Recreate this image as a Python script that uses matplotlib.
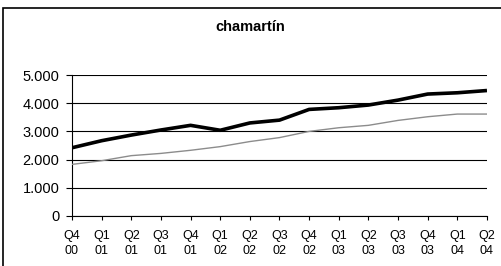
import numpy as np
import matplotlib.pyplot as plt
from matplotlib.patches import Rectangle
from matplotlib.ticker import FuncFormatter

plt.rcParams["font.family"] = ["Liberation Sans", "DejaVu Sans"]

quarters = ["Q4\n00", "Q1\n01", "Q2\n01", "Q3\n01", "Q4\n01", "Q1\n02", "Q2\n02", "Q3\n02",
            "Q4\n02", "Q1\n03", "Q2\n03", "Q3\n03", "Q4\n03", "Q1\n04", "Q2\n04"]
serie_negra = [2420, 2670, 2870, 3050, 3215, 3040, 3300, 3400,
               3780, 3840, 3935, 4110, 4325, 4370, 4450]
serie_gris = [1830, 1960, 2140, 2220, 2330, 2460, 2640, 2780,
              3000, 3130, 3215, 3390, 3520, 3615, 3615]
yticks = [0, 1000, 2000, 3000, 4000, 5000]

fig = plt.figure(figsize=(5.01, 2.66), dpi=100)
ax = fig.add_axes([0.1437, 0.188, 0.8283, 0.530])

x = np.arange(len(quarters))
ax.plot(x, serie_gris, color="#8c8c8c", lw=1.0, zorder=3)
ax.plot(x, serie_negra, color="black", lw=2.6, zorder=4, solid_capstyle="butt")

ax.set_xlim(0, len(quarters) - 1)
ax.set_ylim(0, 5000)
ax.set_yticks(yticks)
ax.yaxis.set_major_formatter(FuncFormatter(lambda v, p: f"{int(v):,}".replace(",", ".")))
ax.set_xticks(x)
ax.set_xticklabels(quarters, fontsize=9, linespacing=1.3)
ax.tick_params(axis="y", labelsize=10.5, length=4, width=0.8, direction="out", pad=5)
ax.tick_params(axis="x", length=3, width=0.8, direction="out", pad=7)

ax.grid(axis="y", color="black", lw=0.8)
ax.set_axisbelow(True)
for s in ["top", "right"]:
    ax.spines[s].set_visible(False)
ax.spines["left"].set_linewidth(0.8)
ax.spines["bottom"].set_linewidth(0.8)

fig.text(0.5, 0.898, "chamartín", ha="center", va="center", fontsize=10.5, fontweight="bold")

# marco exterior del gráfico
fig.patches.append(Rectangle((3 / 501, -0.05), 1.05, 1 - 8 / 266 + 0.05,
                             transform=fig.transFigure, fill=False,
                             edgecolor="black", lw=1.2))

fig.savefig("out.png", dpi=100)
